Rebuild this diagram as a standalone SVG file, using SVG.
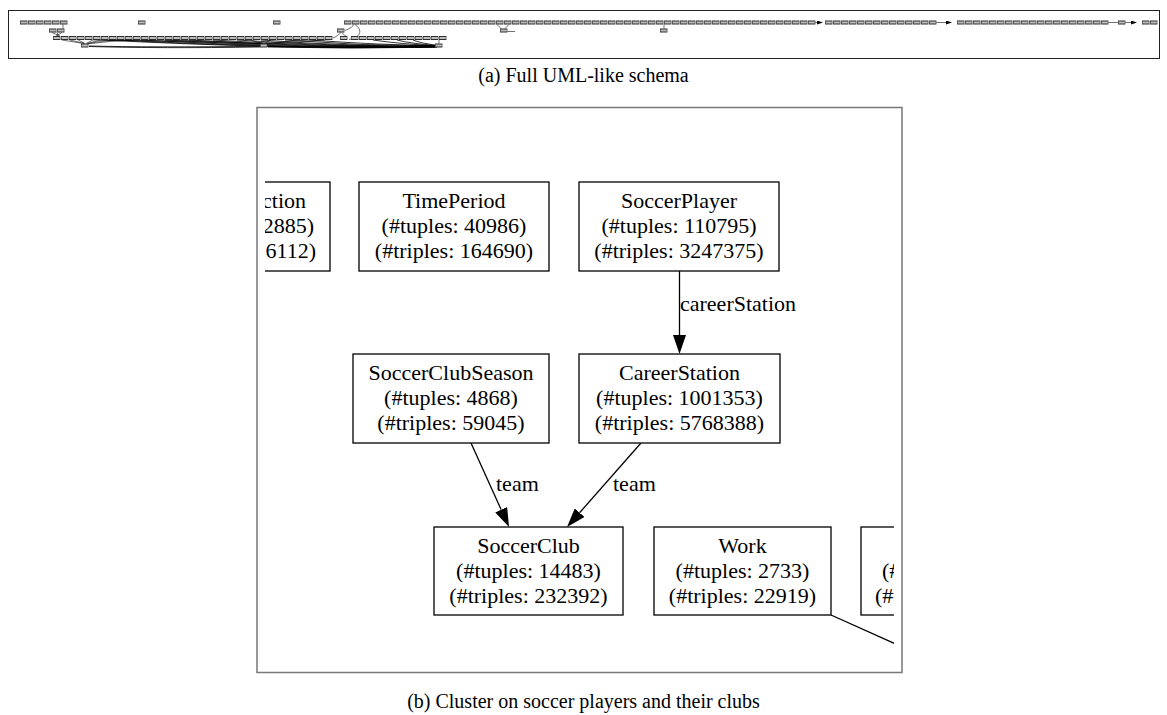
<svg xmlns="http://www.w3.org/2000/svg" xmlns:xlink="http://www.w3.org/1999/xlink" width="1167" height="715" viewBox="0 0 1167 715">
<style>
.bo{fill:none;stroke:#2e2e2e;stroke-width:4;stroke-dasharray:7.4 0.6}
.bi{fill:none;stroke:#bdbdbd;stroke-width:2.2;stroke-dasharray:6.2 1.8;stroke-dashoffset:-0.6}
.tc{fill:none;stroke:#111;stroke-width:0.6}
.tb{fill:none;stroke:#000;stroke-width:0.8}
.nd{fill:#fff;stroke:#000;stroke-width:1.3}
.t{font-family:"Liberation Serif","Times New Roman",serif;font-size:22px;fill:#000}
.c{text-anchor:middle}
.e{fill:none;stroke:#000;stroke-width:1.3}
.cap{font-family:"Liberation Serif","Times New Roman",serif;font-size:20px;fill:#000;text-anchor:middle}
</style>
<defs>
<marker id="ah" markerUnits="userSpaceOnUse" viewBox="0 0 19 13" markerWidth="19" markerHeight="13" refX="0" refY="6.5" orient="auto"><path d="M0,0L19,6.5L0,13z" fill="#000"/></marker>
<marker id="sa" markerUnits="userSpaceOnUse" viewBox="0 0 6 4" markerWidth="6" markerHeight="4" refX="0" refY="2" orient="auto"><path d="M0,0L6,2L0,4z" fill="#000"/></marker>
<path id="rows" d="M20 22.5h47.4M138 22.5h7.4M273 22.5h7.4M344 22.5h471.4M825 22.5h111.4M957 22.5h151.4M1118 22.5h7.4M1142 22.5h15.4M49 30.5h15.4M337 30.5h7.4M500 30.5h7.4M660 30.5h7.4M53 38h279.4M340 38h7.4M351 38h95.4M81 45.5h7.4M260 45.5h7.4M435 45.5h7.4"/>
<clipPath id="cl"><rect x="265" y="108" width="629" height="564"/></clipPath>
</defs>
<rect width="1167" height="715" fill="#fff"/>

<g id="schema-thumbnail">
<rect x="8.5" y="10.5" width="1151" height="48" fill="none" stroke="#222" stroke-width="1"/>
<g id="thumb-connectors">
<path class="tc" d="M63 24.5V28.5M52 32.5L60 36M62 32.5L56 36M57 32.5L58 36"/>
<path class="tc" d="M84 43.5L62 40M84 43.5L70 40M85 43.5L78 40M86 43.5L93 40M87 43.5L101 40M88 43.5Q100 41 117 40M88 43.8Q110 41 133 40"/>
<path class="tc" d="M262 43.5Q200 41 93 40M262 43.8Q190 42 109 40M263 43.8Q220 41 165 40M263 43.5L250 40M265 43.5L270 40M266 43.5Q290 41 309 40M266 43.8Q300 42 325 40"/>
<path class="tb" d="M437 46.8Q300 50 101 40M437 46.8Q300 49.5 117 40M437 46.8Q300 49 141 40M437 46.6Q310 48.5 165 40M437 46.6Q320 48 189 40M437 46.4Q330 47.5 213 40M437 46.3Q340 47 237 40M437 46.2Q350 46.6 261 40M437 46Q360 46 285 40M437 45.8Q380 45 309 40M437 45.8Q400 44 373 40M437 45.6Q410 43.5 397 40M437 45.4Q420 43 413 40"/>
<path class="tb" d="M89 46.5Q160 48.5 260 47M89 46Q150 47.5 260 46.3M268 47Q350 49 435 47.2M268 46.5Q340 48 435 46.8"/>
<path class="tc" d="M439 43.5V40"/>
<path class="tc" d="M345 30.5C351 28 354 26 353 24.5M341 32.5C338 35 336 37 333 38M355 24.5C363 30 361 37.5 349 39.5M342 32.5C344 35 345 36 346 36"/>
<path class="tc" d="M501 28.5L497 24.5M505 28.5L509 24.5M507.4 31.5H515M664 28.5V24.5"/>
<path class="tc" d="M815.4 22.5H817" marker-end="url(#sa)"/>
<path class="tc" d="M936.4 22.5H946" marker-end="url(#sa)"/>
<path class="tc" d="M1108.4 22.5H1118"/>
<path class="tc" d="M1125.4 22.5H1131" marker-end="url(#sa)"/>
</g>
<g id="thumb-nodes">
<use xlink:href="#rows" class="bo"/>
<use xlink:href="#rows" class="bi"/>
</g>
</g>

<text class="cap" x="583.5" y="82">(a) Full UML-like schema</text>

<rect x="257" y="107.5" width="645" height="565" fill="none" stroke="#777" stroke-width="1.5"/>

<g clip-path="url(#cl)">
<g id="connectors">
<path class="e" d="M679.5 271V335" marker-end="url(#ah)"/>
<path class="e" d="M471 443L501.2 509.7" marker-end="url(#ah)"/>
<path class="e" d="M641 443L579.6 512.75" marker-end="url(#ah)"/>
<path class="e" d="M831 615L900 646"/>
<text class="t" x="680" y="311">careerStation</text>
<text class="t" x="496" y="490.5">team</text>
<text class="t" x="613" y="490.5">team</text>
</g>

<g id="node-ction">
<rect class="nd" x="250" y="182" width="80" height="89"/>
<text class="t" x="306" y="208" text-anchor="end">ction</text>
<text class="t" x="314" y="233" text-anchor="end">2885)</text>
<text class="t" x="316" y="258" text-anchor="end">6112)</text>
</g>
<g id="node-TimePeriod">
<rect class="nd" x="359" y="182" width="190" height="89"/>
<text class="t c" x="454" y="208">TimePeriod</text>
<text class="t c" x="454" y="233">(#tuples: 40986)</text>
<text class="t c" x="454" y="258">(#triples: 164690)</text>
</g>
<g id="node-SoccerPlayer">
<rect class="nd" x="579" y="182" width="200" height="89"/>
<text class="t c" x="679" y="208">SoccerPlayer</text>
<text class="t c" x="679" y="233">(#tuples: 110795)</text>
<text class="t c" x="679" y="258">(#triples: 3247375)</text>
</g>
<g id="node-SoccerClubSeason">
<rect class="nd" x="353" y="354" width="196" height="89"/>
<text class="t c" x="451" y="380">SoccerClubSeason</text>
<text class="t c" x="451" y="405">(#tuples: 4868)</text>
<text class="t c" x="451" y="430">(#triples: 59045)</text>
</g>
<g id="node-CareerStation">
<rect class="nd" x="579" y="354" width="201" height="89"/>
<text class="t c" x="679.5" y="380">CareerStation</text>
<text class="t c" x="679.5" y="405">(#tuples: 1001353)</text>
<text class="t c" x="679.5" y="430">(#triples: 5768388)</text>
</g>
<g id="node-SoccerClub">
<rect class="nd" x="434" y="527" width="189" height="88"/>
<text class="t c" x="528.5" y="552.5">SoccerClub</text>
<text class="t c" x="528.5" y="577.5">(#tuples: 14483)</text>
<text class="t c" x="528.5" y="602.5">(#triples: 232392)</text>
</g>
<g id="node-Work">
<rect class="nd" x="654" y="527" width="177" height="88"/>
<text class="t c" x="742.5" y="552.5">Work</text>
<text class="t c" x="742.5" y="577.5">(#tuples: 2733)</text>
<text class="t c" x="742.5" y="602.5">(#triples: 22919)</text>
</g>
<g id="node-partial-right">
<rect class="nd" x="861" y="527" width="60" height="88"/>
<text class="t" x="882" y="577.5">(#</text>
<text class="t" x="875" y="602.5">(#t</text>
</g>
</g>

<text class="cap" x="583.5" y="708">(b) Cluster on soccer players and their clubs</text>
</svg>
